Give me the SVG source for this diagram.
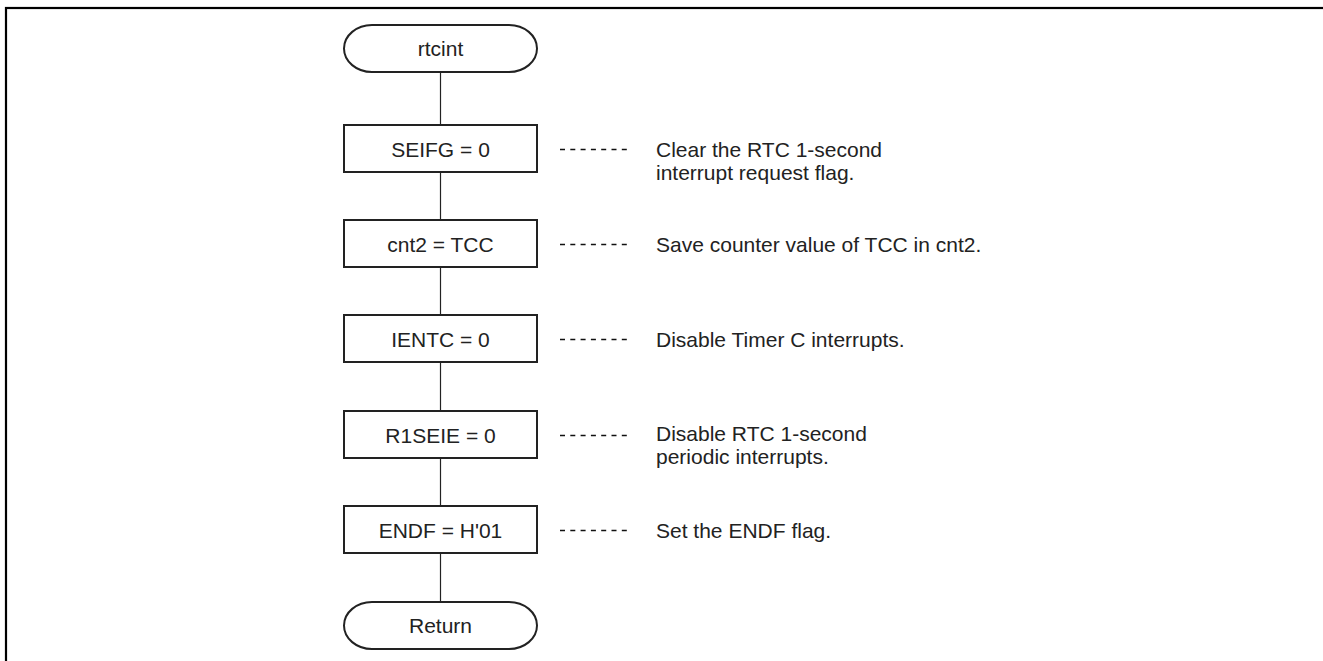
<svg xmlns="http://www.w3.org/2000/svg" width="1323" height="661" viewBox="0 0 1323 661">
  <style>
    .frame { fill: none; stroke: #000; stroke-width: 2.2; }
    .shape { fill: #fff; stroke: #222; stroke-width: 2; }
    .flow { stroke: #222; stroke-width: 1.2; fill: none; }
    .lead { stroke: #111; stroke-width: 1.3; stroke-dasharray: 5 5.3; fill: none; }
    .label { font-family: "Liberation Sans", Arial, sans-serif; font-size: 21px; fill: #222; text-anchor: middle; }
    .note { font-family: "Liberation Sans", Arial, sans-serif; font-size: 21px; fill: #222; }
  </style>
  <rect width="1323" height="661" fill="#fff"/>
  <!-- outer frame, open past the right and bottom edges -->
  <rect class="frame" x="6" y="8" width="1330" height="670"/>

  <!-- flow line joining all steps, plus dashed leaders to the notes -->
  <g id="connectors">
    <line class="flow" x1="440.5" y1="72" x2="440.5" y2="125"/>
    <line class="flow" x1="440.5" y1="172" x2="440.5" y2="220"/>
    <line class="flow" x1="440.5" y1="267" x2="440.5" y2="315"/>
    <line class="flow" x1="440.5" y1="362" x2="440.5" y2="411"/>
    <line class="flow" x1="440.5" y1="458" x2="440.5" y2="506"/>
    <line class="flow" x1="440.5" y1="553" x2="440.5" y2="602"/>
    <line class="lead" x1="560" y1="149.5" x2="628" y2="149.5"/>
    <line class="lead" x1="560" y1="244.5" x2="628" y2="244.5"/>
    <line class="lead" x1="560" y1="339.5" x2="628" y2="339.5"/>
    <line class="lead" x1="560" y1="435.5" x2="628" y2="435.5"/>
    <line class="lead" x1="560" y1="530.5" x2="628" y2="530.5"/>
  </g>

  <g id="start">
    <rect class="shape" x="344" y="25" width="193" height="47" rx="28" ry="23.5"/>
    <text class="label" x="440.5" y="56">rtcint</text>
  </g>

  <g id="step-seifg">
    <rect class="shape" x="344" y="125" width="193" height="47"/>
    <text class="label" x="440.5" y="156.5">SEIFG = 0</text>
    <text class="note" x="656" y="156.5">Clear the RTC 1-second</text>
    <text class="note" x="656" y="179.5">interrupt request flag.</text>
  </g>

  <g id="step-cnt2">
    <rect class="shape" x="344" y="220" width="193" height="47"/>
    <text class="label" x="440.5" y="251.5">cnt2 = TCC</text>
    <text class="note" x="656" y="251.5">Save counter value of TCC in cnt2.</text>
  </g>

  <g id="step-ientc">
    <rect class="shape" x="344" y="315" width="193" height="47"/>
    <text class="label" x="440.5" y="346.5">IENTC = 0</text>
    <text class="note" x="656" y="346.5">Disable Timer C interrupts.</text>
  </g>

  <g id="step-r1seie">
    <rect class="shape" x="344" y="411" width="193" height="47"/>
    <text class="label" x="440.5" y="442.5">R1SEIE = 0</text>
    <text class="note" x="656" y="441">Disable RTC 1-second</text>
    <text class="note" x="656" y="464">periodic interrupts.</text>
  </g>

  <g id="step-endf">
    <rect class="shape" x="344" y="506" width="193" height="47"/>
    <text class="label" x="440.5" y="537.5">ENDF = H'01</text>
    <text class="note" x="656" y="537.5">Set the ENDF flag.</text>
  </g>

  <g id="end">
    <rect class="shape" x="344" y="602" width="193" height="47" rx="28" ry="23.5"/>
    <text class="label" x="440.5" y="633">Return</text>
  </g>
</svg>
